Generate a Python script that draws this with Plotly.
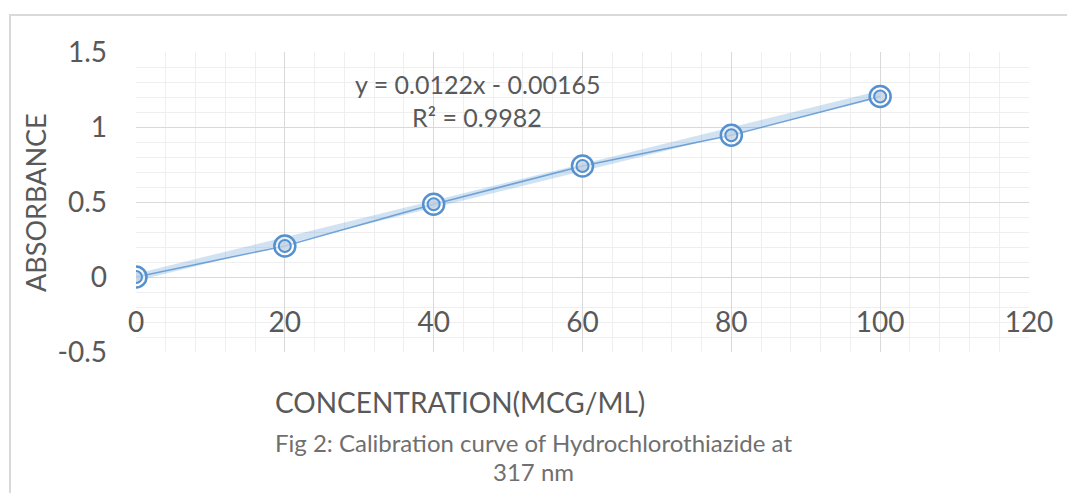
import numpy as np
import plotly.graph_objects as go

# ---- data ----
concentration = [0, 20, 40, 60, 80, 100]
absorbance = [0.0, 0.207, 0.485, 0.740, 0.945, 1.203]
trend_slope = 0.0122
trend_intercept = -0.00165
r_squared = 0.9982
x_ticks = [0, 20, 40, 60, 80, 100, 120]
y_ticks = [-0.5, 0, 0.5, 1, 1.5]
y_tick_text = ["-0.5", "0", "0.5", "1", "1.5"]

# ---- layout geometry (screen pixels; page body has an 8px margin) ----
OFF = 8
SW, SH = 1075, 493
W, H = SW - OFF, SH - OFF
# plot area in screen pixels
P_LEFT, P_RIGHT, P_TOP, P_BOTTOM = 136, 1029, 52, 352
L, T = P_LEFT - OFF, P_TOP - OFF
R = W - (P_RIGHT - OFF)
B = H - (P_BOTTOM - OFF)
PW, PH = W - L - R, H - T - B

def px_x(px):
    return (px - OFF - L) / PW

def px_y(py):
    return (T + PH - (py - OFF)) / PH

FONT = "Lato, 'Open Sans', sans-serif"
TXT = "#595959"
BLUE = "#5591cf"

trend_x = np.array([concentration[0], concentration[-1]], dtype=float)
trend_y = trend_slope * trend_x + trend_intercept

fig = go.Figure()
# trendline (wide translucent band)
fig.add_trace(go.Scatter(x=trend_x, y=trend_y, mode="lines",
                         line=dict(color="rgba(91,155,213,0.28)", width=7),
                         hoverinfo="skip", showlegend=False))
# data line
fig.add_trace(go.Scatter(x=concentration, y=absorbance, mode="lines",
                         line=dict(color="rgba(85,145,207,0.8)", width=1.5),
                         showlegend=False))
# outer ring markers
fig.add_trace(go.Scatter(x=concentration, y=absorbance, mode="markers",
                         marker=dict(symbol="circle", size=21,
                                     color="rgba(255,255,255,0.55)",
                                     line=dict(color=BLUE, width=2.5)),
                         showlegend=False))
# inner ring markers
fig.add_trace(go.Scatter(x=concentration, y=absorbance, mode="markers",
                         marker=dict(symbol="circle", size=12,
                                     color="rgba(170,192,215,0.55)",
                                     line=dict(color=BLUE, width=2)),
                         showlegend=False))

axis_common = dict(showline=False, zeroline=False, ticks="",
                   tickfont=dict(family=FONT, size=28, color=TXT))

fig.update_xaxes(range=[0, 120], tickvals=x_ticks, showgrid=True,
                 gridcolor="#d9d9d9", gridwidth=1,
                 minor=dict(dtick=4, tick0=0, showgrid=True,
                            gridcolor="#efefef", gridwidth=1),
                 anchor="free", position=0.25, ticklabelstandoff=26,
                 **axis_common)
fig.update_yaxes(range=[-0.5, 1.5], tickvals=y_ticks, ticktext=y_tick_text,
                 showgrid=True, gridcolor="#d9d9d9", gridwidth=1,
                 minor=dict(dtick=0.1, tick0=-0.5, showgrid=True,
                            gridcolor="#efefef", gridwidth=1),
                 ticklabelstandoff=28, **axis_common)

annotations = [
    dict(text=f"y = {trend_slope}x - {abs(trend_intercept)}", x=px_x(477), y=px_y(84),
         font=dict(family=FONT, size=25, color=TXT)),
    dict(text=f"R² = {r_squared}", x=px_x(477), y=px_y(117),
         font=dict(family=FONT, size=25, color=TXT)),
    dict(text="CONCENTRATION(MCG/ML)", x=px_x(460), y=px_y(402),
         font=dict(family=FONT, size=28, color=TXT)),
    dict(text="ABSORBANCE", x=px_x(35), y=px_y(203), textangle=-90,
         font=dict(family=FONT, size=27, color=TXT)),
    dict(text="Fig 2: Calibration curve of Hydrochlorothiazide at", x=px_x(533), y=px_y(442),
         font=dict(family=FONT, size=24, color="#6f6f6f")),
    dict(text="317 nm", x=px_x(533), y=px_y(471),
         font=dict(family=FONT, size=24, color="#6f6f6f")),
]
for a in annotations:
    a.update(xref="paper", yref="paper", showarrow=False,
             xanchor="center", yanchor="middle")

shapes = [
    dict(type="line", xref="paper", yref="paper",
         x0=px_x(9), y0=px_y(15), x1=px_x(SW + 5), y1=px_y(15),
         line=dict(color="#d9d9d9", width=2)),
    dict(type="line", xref="paper", yref="paper",
         x0=px_x(10), y0=px_y(15), x1=px_x(10), y1=px_y(SH + 5),
         line=dict(color="#d9d9d9", width=2)),
]

fig.update_layout(width=W, height=H, margin=dict(l=L, r=R, t=T, b=B),
                  paper_bgcolor="white", plot_bgcolor="white",
                  showlegend=False, annotations=annotations, shapes=shapes,
                  font=dict(family=FONT, color=TXT))

fig.write_html("out.html")
